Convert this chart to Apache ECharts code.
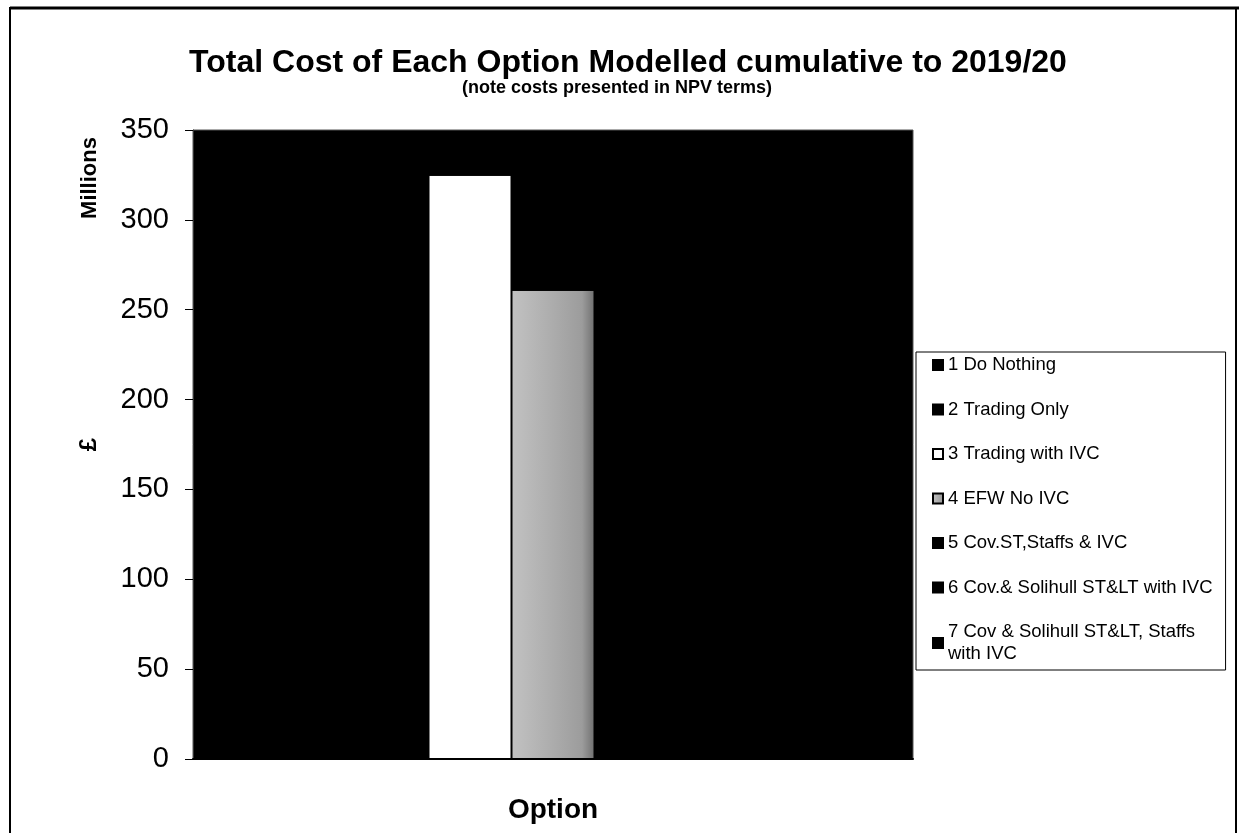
<!DOCTYPE html>
<html>
<head>
<meta charset="utf-8">
<script src="https://cdn.jsdelivr.net/npm/echarts@6/dist/echarts.min.js"></script>
<style>
html,body{margin:0;padding:0;background:#fff;overflow:hidden;}
#chart{width:1239px;height:833px;}
</style>
</head>
<body>
<div id="chart"></div>
<script>
var categories = ['Option'];
var seriesNames = [
  '1 Do Nothing',
  '2 Trading Only',
  '3 Trading with IVC',
  '4 EFW No IVC',
  '5 Cov.ST,Staffs & IVC',
  '6 Cov.& Solihull ST&LT with IVC',
  '7 Cov & Solihull ST&LT, Staffs\nwith IVC'
];
var seriesValues = [340, 345, 325, 261, 345, 340, 335];
var yTicks = [0, 50, 100, 150, 200, 250, 300, 350];

var FONT = '"Liberation Sans", Arial, sans-serif';
var grayFill = new echarts.graphic.LinearGradient(0, 0, 1, 0, [
  {offset: 0, color: '#c2c2c2'},
  {offset: 0.5, color: '#acacac'},
  {offset: 0.85, color: '#9c9c9c'},
  {offset: 1, color: '#707070'}
]);
var fills = ['#000000', '#000000', '#ffffff', grayFill, '#000000', '#000000', '#000000'];

var chart = echarts.init(document.getElementById('chart'), null, {renderer: 'canvas'});
var series = seriesNames.map(function (n, i) {
  return {
    name: n,
    type: 'bar',
    barWidth: 83,
    barGap: '0%',
    data: [seriesValues[i]],
    itemStyle: {color: fills[i], borderColor: '#000', borderWidth: 1}
  };
});

chart.setOption({
  animation: false,
  backgroundColor: '#ffffff',
  textStyle: {fontFamily: FONT},
  title: [{
    text: 'Total Cost of Each Option Modelled cumulative to 2019/20',
    left: 623,
    textAlign: 'center',
    top: 42,
    textStyle: {fontFamily: FONT, fontSize: 32, fontWeight: 'bold', color: '#000'}
  }, {
    text: '(note costs presented in NPV terms)',
    left: 612,
    textAlign: 'center',
    top: 74,
    textStyle: {fontFamily: FONT, fontSize: 18, fontWeight: 'bold', color: '#000'}
  }],
  legend: {
    orient: 'vertical',
    left: 916,
    top: 352,
    padding: [2, 13, 5, 16],
    itemGap: 22.5,
    itemWidth: 10,
    itemHeight: 10,
    icon: 'rect',
    backgroundColor: '#ffffff',
    borderColor: '#000000',
    borderWidth: 1,
    borderRadius: 0,
    selectedMode: false,
    textStyle: {fontFamily: FONT, fontSize: 18.5, color: '#000', lineHeight: 22},
    data: seriesNames
  },
  grid: {
    left: 193,
    top: 130,
    width: 720,
    height: 629,
    containLabel: false,
    outerBoundsMode: 'none',
    show: true,
    backgroundColor: '#000000',
    borderColor: '#555555',
    borderWidth: 1
  },
  xAxis: {
    type: 'category',
    data: categories,
    name: 'Option',
    nameLocation: 'middle',
    nameGap: 37,
    nameTextStyle: {fontFamily: FONT, fontSize: 28, fontWeight: 'bold', color: '#000'},
    axisLabel: {show: false},
    axisTick: {show: false},
    axisLine: {show: true, lineStyle: {color: '#000', width: 2}}
  },
  yAxis: {
    type: 'value',
    min: 0,
    max: 350,
    interval: 50,
    name: '£',
    nameLocation: 'middle',
    nameRotate: 90,
    nameGap: 92,
    nameTextStyle: {fontFamily: FONT, fontSize: 24, fontWeight: 'bold', color: '#000'},
    axisLine: {show: true, lineStyle: {color: '#333', width: 1}},
    axisTick: {show: true, inside: false, length: 8, lineStyle: {color: '#000', width: 1}},
    axisLabel: {
      fontFamily: FONT, fontSize: 29, color: '#000', margin: 24,
      formatter: function (v) { return yTicks.indexOf(v) >= 0 ? String(v) : ''; }
    },
    splitLine: {show: false}
  },
  graphic: [
    {type: 'rect', shape: {x: 10, y: 8, width: 1226, height: 850}, style: {fill: 'none', stroke: '#000', lineWidth: 2}, silent: true},
    {type: 'line', shape: {x1: 10, y1: 8, x2: 1239, y2: 8}, style: {stroke: '#000', lineWidth: 3}, silent: true},
    {type: 'text', x: 90, y: 178, rotation: Math.PI / 2,
     style: {text: 'Millions', font: 'bold 22px ' + FONT, fill: '#000', textAlign: 'center', textVerticalAlign: 'middle'}, silent: true}
  ],
  series: series
});
</script>
</body>
</html>
